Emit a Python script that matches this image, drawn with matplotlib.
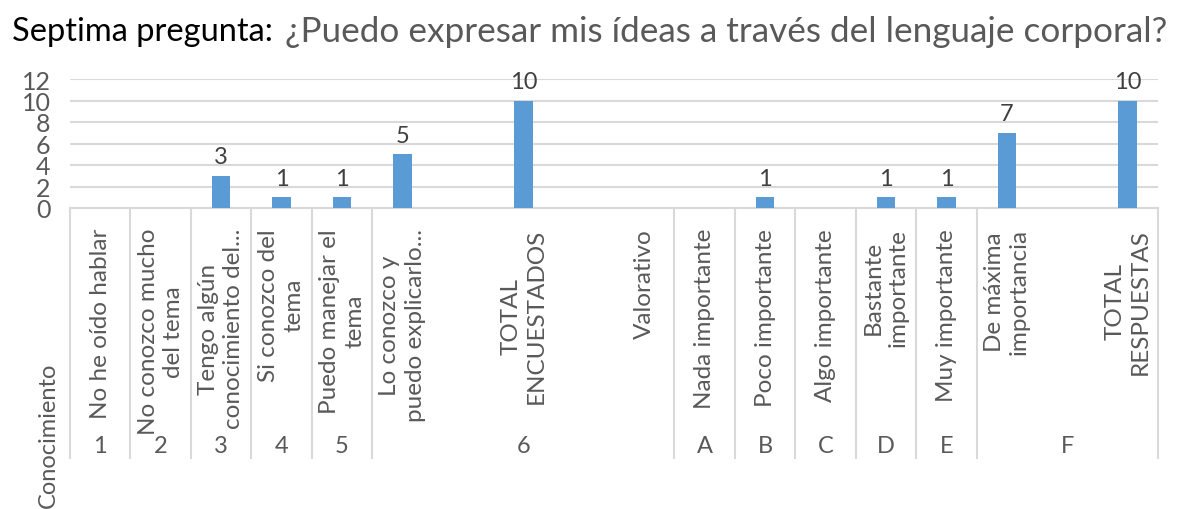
import numpy as np
import matplotlib
matplotlib.use('Agg')
import matplotlib.pyplot as plt

plt.rcParams['font.family'] = ['Lato', 'DejaVu Sans']

# one slot per category, blank slots are empty cells in the sheet
labels = ['No he oído hablar', 'No conozco mucho\ndel tema',
          'Tengo algún\nconocimiento del...', 'Si conozco del\ntema',
          'Puedo manejar el\ntema', 'Lo conozco y\npuedo explicarlo...',
          '', 'TOTAL\nENCUESTADOS', '', 'Valorativo',
          'Nada importante', 'Poco importante', 'Algo importante',
          'Bastante\nimportante', 'Muy importante', 'De máxima\nimportancia',
          '', 'TOTAL\nRESPUESTAS']
values = [np.nan, np.nan, 3, 1, 1, 5, np.nan, 10, np.nan, np.nan,
          np.nan, 1, np.nan, 1, 1, 7, np.nan, 10]

# group labels: (name, first slot, last slot)
groups = [('1', 0, 0), ('2', 1, 1), ('3', 2, 2), ('4', 3, 3), ('5', 4, 4),
          ('6', 5, 9), ('A', 10, 10), ('B', 11, 11), ('C', 12, 12),
          ('D', 13, 13), ('E', 14, 14), ('F', 15, 17)]

blue = '#5B9BD5'
gray = '#595959'
grid = '#D9D9D9'

W, H = 1181, 510
fig = plt.figure(figsize=(W / 100, H / 100), dpi=100)
ax = fig.add_axes([70 / W, 301 / H, 1088 / W, 129 / H])

x = np.arange(len(labels))
ax.bar(x, np.nan_to_num(values), width=0.31, color=blue, zorder=3)
for xi, v in zip(x, values):
    if not np.isnan(v):
        ax.annotate(f'{int(v)}', (xi, v), xytext=(0, 6), textcoords='offset points',
                    ha='center', va='bottom', fontsize=17, color='#404040')

ax.set_xlim(-0.5, len(labels) - 0.5)
ax.set_ylim(0, 12)
ax.set_yticks(range(0, 13, 2))
ax.tick_params(axis='y', length=0, labelsize=18, labelcolor=gray, pad=14)
ax.set_xticks([])
ax.grid(axis='y', color=grid, linewidth=1.5, zorder=0)
for s in ['top', 'right', 'left']:
    ax.spines[s].set_visible(False)
ax.spines['bottom'].set_color(grid)
ax.spines['bottom'].set_linewidth(1.5)

def fy(py):
    # pixel row -> axes fraction
    return (209 - py) / 129

tr = ax.get_xaxis_transform()
for xi, lab in zip(x, labels):
    if lab:
        ax.text(xi, fy(229), lab, transform=tr, rotation=90, ha='center', va='top',
                multialignment='center', fontsize=17.5, color=gray, linespacing=1.25)

bounds = sorted({g[1] - 0.5 for g in groups} | {groups[-1][2] + 0.5})
for b in bounds:
    ax.plot([b, b], [0, fy(459)], transform=tr, color=grid, lw=1.5, clip_on=False)
for name, a, b in groups:
    ax.text((a + b) / 2, fy(447), name, transform=tr, ha='center', va='center',
            fontsize=17, color=gray)

fig.text(48 / W, 1 - 508 / H, 'Conocimiento', rotation=90, ha='center', va='bottom',
         fontsize=17, color=gray)

fig.text(12 / W, 1 - 32 / H, 'Septima pregunta:', ha='left', va='center',
         fontsize=23.5, color='black')
fig.text(285 / W, 1 - 32 / H, '¿Puedo expresar mis ídeas a través del lenguaje corporal?',
         ha='left', va='center', fontsize=25.3, color=gray)

fig.savefig('out.png', dpi=100)
